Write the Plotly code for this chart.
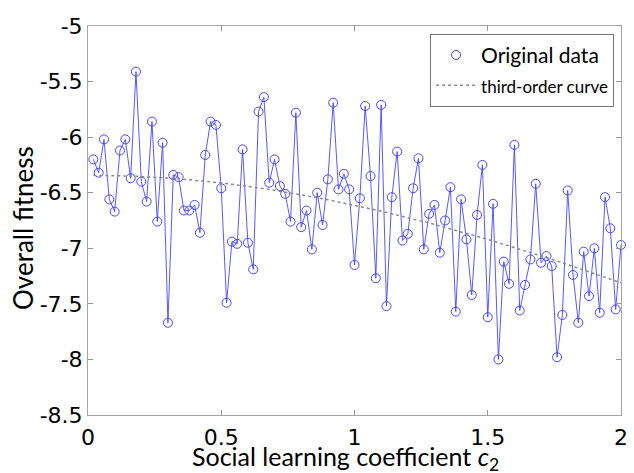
import numpy as np
import plotly.graph_objects as go

c2 = [0.02, 0.04, 0.06, 0.08, 0.10, 0.12, 0.14, 0.16, 0.18, 0.20,
      0.22, 0.24, 0.26, 0.28, 0.30, 0.32, 0.34, 0.36, 0.38, 0.40,
      0.42, 0.44, 0.46, 0.48, 0.50, 0.52, 0.54, 0.56, 0.58, 0.60,
      0.62, 0.64, 0.66, 0.68, 0.70, 0.72, 0.74, 0.76, 0.78, 0.80,
      0.82, 0.84, 0.86, 0.88, 0.90, 0.92, 0.94, 0.96, 0.98, 1.00,
      1.02, 1.04, 1.06, 1.08, 1.10, 1.12, 1.14, 1.16, 1.18, 1.20,
      1.22, 1.24, 1.26, 1.28, 1.30, 1.32, 1.34, 1.36, 1.38, 1.40,
      1.42, 1.44, 1.46, 1.48, 1.50, 1.52, 1.54, 1.56, 1.58, 1.60,
      1.62, 1.64, 1.66, 1.68, 1.70, 1.72, 1.74, 1.76, 1.78, 1.80,
      1.82, 1.84, 1.86, 1.88, 1.90, 1.92, 1.94, 1.96, 1.98, 2.00]

fitness = [-6.20, -6.32, -6.02, -6.56, -6.67, -6.12, -6.02, -6.37, -5.41, -6.40,
           -6.58, -5.86, -6.76, -6.05, -7.67, -6.34, -6.36, -6.66, -6.66, -6.61,
           -6.86, -6.16, -5.86, -5.89, -6.46, -7.49, -6.94, -6.96, -6.11, -6.95,
           -7.19, -5.77, -5.64, -6.41, -6.20, -6.44, -6.51, -6.76, -5.78, -6.81,
           -6.66, -7.01, -6.50, -6.79, -6.38, -5.69, -6.47, -6.33, -6.47, -7.15,
           -6.55, -5.72, -6.35, -7.27, -5.71, -7.52, -6.54, -6.13, -6.93, -6.87,
           -6.46, -6.19, -7.01, -6.69, -6.61, -7.04, -6.75, -6.45, -7.57, -6.56,
           -6.92, -7.42, -6.70, -6.25, -7.62, -6.60, -8.00, -7.12, -7.32, -6.07,
           -7.56, -7.33, -7.10, -6.42, -7.13, -7.07, -7.16, -7.98, -7.60, -6.48,
           -7.24, -7.67, -7.03, -7.43, -7.00, -7.58, -6.54, -6.82, -7.55, -6.97]

x_ticks = [0, 0.5, 1, 1.5, 2]
x_tick_labels = ["0", "0.5", "1", "1.5", "2"]
y_ticks = [-8.5, -8, -7.5, -7, -6.5, -6, -5.5, -5]
y_tick_labels = ["-8.5", "-8", "-7.5", "-7", "-6.5", "-6", "-5.5", "-5"]

# third-order least-squares fit of the data (as in the original)
coef = np.polyfit(c2, fitness, 3)
curve = np.polyval(coef, c2)

blue = "rgb(70,70,255)"
fig = go.Figure()
fig.add_trace(go.Scatter(x=c2, y=fitness, mode="lines",
                         line=dict(color=blue, width=0.9),
                         showlegend=False, hoverinfo="skip", cliponaxis=False))
fig.add_trace(go.Scatter(x=c2, y=fitness, mode="markers", name="Original data",
                         cliponaxis=False,
                         marker=dict(symbol="circle-open", size=9,
                                     color=blue, line=dict(width=1, color=blue))))
fig.add_trace(go.Scatter(x=c2, y=curve, mode="lines",
                         name='<span style="font-size:17px">third-order curve</span>',
                         line=dict(color="rgb(140,140,140)", width=1.5, dash="dot")))

axis_common = dict(showgrid=False, zeroline=False, showline=True,
                   linecolor="rgb(165,165,165)", linewidth=1, mirror="ticks",
                   ticks="inside", ticklen=5, tickcolor="rgb(150,150,150)",
                   ticklabeloverflow="allow",
                   tickfont=dict(family="DejaVu Sans", size=22, color="black"))

# the page body adds an 8px margin, so the figure is 8px smaller and margins offset
fig.update_layout(
    width=626, height=465,
    margin=dict(l=80, r=6, t=11, b=58),
    paper_bgcolor="white", plot_bgcolor="white",
    xaxis=dict(range=[0, 2], tickvals=x_ticks, ticktext=x_tick_labels,
               ticklabelstandoff=3, **axis_common),
    yaxis=dict(range=[-8.5, -5], tickvals=y_ticks, ticktext=y_tick_labels,
               **axis_common),
    legend=dict(x=0.987, y=0.98, xanchor="right", yanchor="top",
                bordercolor="rgb(120,120,120)", borderwidth=1, bgcolor="white",
                font=dict(family="Lato", size=21, color="black"),
                itemwidth=40),
    annotations=[
        dict(text="Social learning coefficient <i>c</i><sub>2</sub>",
             xref="paper", yref="paper", x=0.484, y=0, xanchor="center",
             yanchor="middle", yshift=-43, showarrow=False,
             font=dict(family="Lato", size=25, color="black")),
        dict(text="Overall fitness", textangle=-90,
             xref="paper", yref="paper", x=0, y=0.481, xanchor="center",
             yanchor="middle", xshift=-65, showarrow=False,
             font=dict(family="Lato", size=26, color="black")),
    ],
)

fig.write_html("out.html")
